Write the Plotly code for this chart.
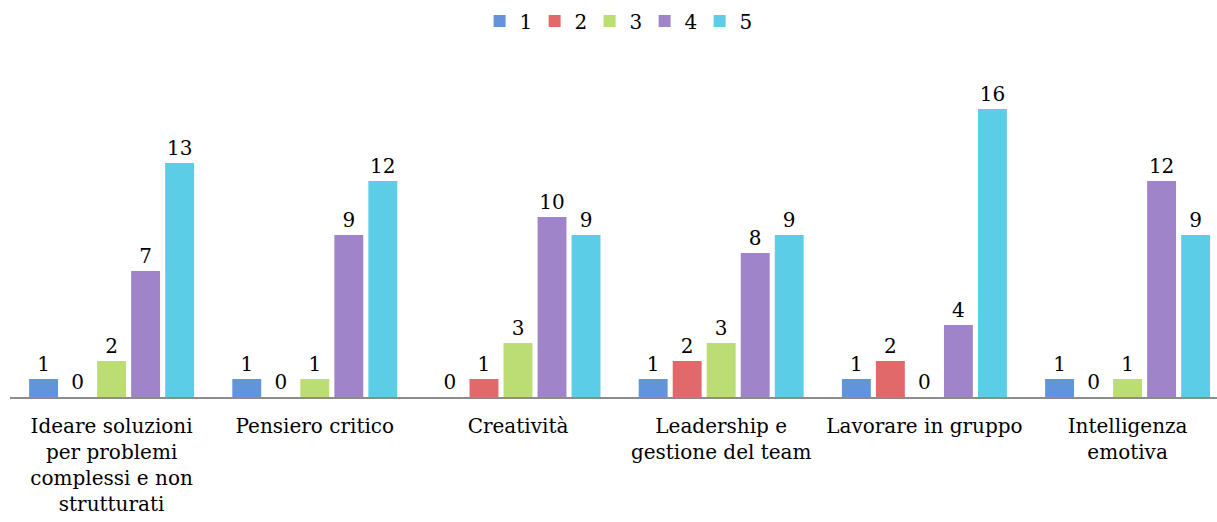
import plotly.graph_objects as go

categories = [
    "Ideare soluzioni<br>per problemi<br>complessi e non<br>strutturati",
    "Pensiero critico",
    "Creatività",
    "Leadership e<br>gestione del team",
    "Lavorare in gruppo",
    "Intelligenza<br>emotiva",
]
series_names = ["1", "2", "3", "4", "5"]
s1 = [1, 1, 0, 1, 1, 1]
s2 = [0, 0, 1, 2, 2, 0]
s3 = [2, 1, 3, 3, 0, 1]
s4 = [7, 9, 10, 8, 4, 12]
s5 = [13, 12, 9, 9, 16, 9]
series_values = [s1, s2, s3, s4, s5]
colors = ["#6294dc", "#e2696a", "#bcdc74", "#a084ca", "#5bcde7"]

FONT = "DejaVu Serif"
FS = 20

fig = go.Figure()
for name, vals, col in zip(series_names, series_values, colors):
    fig.add_trace(go.Bar(
        name=name,
        x=list(range(len(categories))),
        y=vals,
        marker=dict(color=col, line=dict(width=0)),
        text=[str(v) for v in vals],
        textposition="outside",
        cliponaxis=False,
        textfont=dict(family=FONT, size=FS, color="#000000"),
    ))

fig.update_layout(
    width=1217, height=522,
    margin=dict(l=10, r=0, t=73, b=125, autoexpand=False),
    paper_bgcolor="white", plot_bgcolor="white",
    barmode="group", bargap=0.163, bargroupgap=0.15,
    font=dict(family=FONT, size=FS, color="#000000"),
    showlegend=True,
    legend=dict(orientation="h", x=0.503, xanchor="center", yref="container", y=0.997, yanchor="top",
                font=dict(family=FONT, size=FS), itemwidth=30, entrywidth=10,
                traceorder="normal"),
    xaxis=dict(
        tickmode="array", tickvals=list(range(len(categories))), ticktext=categories,
        range=[-0.5, 5.44], showline=True, linecolor="#8c8c8c", linewidth=1.5,
        ticks="", showgrid=False, zeroline=False, tickfont=dict(family=FONT, size=FS),
        ticklabelstandoff=10, automargin=False,
    ),
    yaxis=dict(range=[0, 18], visible=False, showgrid=False, zeroline=False, automargin=False),
)
fig.write_html("out.html", config={"displayModeBar": False},
               post_script="document.body.style.margin='0';document.body.style.overflow='hidden';")
